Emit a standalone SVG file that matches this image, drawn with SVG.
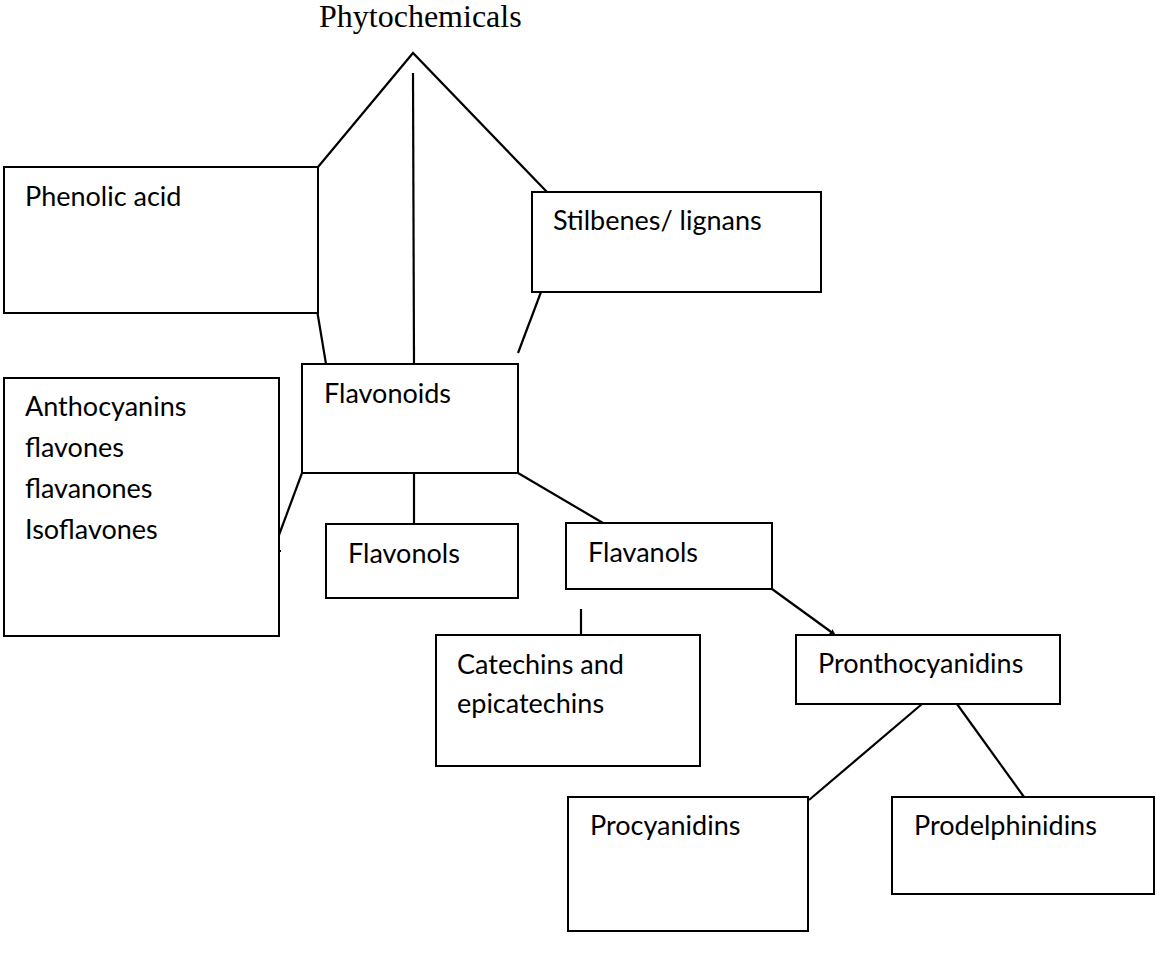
<svg xmlns="http://www.w3.org/2000/svg" width="1156" height="962" viewBox="0 0 1156 962">
<style>
.box{fill:#fff;stroke:#000;stroke-width:2}
.lbl{font-family:Lato,"Open Sans","Liberation Sans",sans-serif;font-size:27px;fill:#000}
.title{font-family:"Liberation Serif","Times New Roman",serif;font-size:32px;fill:#000}
.con line,.con path{stroke:#000;stroke-width:2.2;fill:none}
</style>
<defs>
<marker id="ah" markerWidth="8" markerHeight="8" refX="4" refY="4" orient="auto" markerUnits="userSpaceOnUse">
<path d="M0,1 L6,4 L0,7 Z" fill="#000"/>
</marker>
</defs>
<rect width="1156" height="962" fill="#fff"/>
<g id="connectors" class="con">
<path d="M318,167 L413,53 L547,192"/>
<line x1="413" y1="73" x2="414" y2="364"/>
<line x1="317.5" y1="313" x2="326" y2="364"/>
<line x1="541" y1="292" x2="518" y2="353"/>
<line x1="302" y1="473" x2="279" y2="535"/>
<line x1="279" y1="551" x2="281" y2="551"/>
<line x1="414" y1="473" x2="414" y2="524"/>
<line x1="518" y1="473" x2="603" y2="523"/>
<line x1="772" y1="589" x2="834" y2="634" marker-end="url(#ah)"/>
<line x1="581" y1="609" x2="581" y2="635"/>
<line x1="922" y1="704" x2="809" y2="800"/>
<line x1="957" y1="704" x2="1024" y2="797"/>
</g>
<g id="phytochemicals"><text class="title" x="319" y="27">Phytochemicals</text></g>
<g id="phenolic"><rect class="box" x="4" y="167" width="314" height="146"/><text class="lbl" x="25" y="206">Phenolic acid</text></g>
<g id="stilbenes"><rect class="box" x="532" y="192" width="289" height="100"/><text class="lbl" x="553" y="230">Stilbenes/ lignans</text></g>
<g id="flavonoids"><rect class="box" x="302" y="364" width="216" height="109"/><text class="lbl" x="324" y="403">Flavonoids</text></g>
<g id="anthocyanins"><rect class="box" x="4" y="378" width="275" height="258"/><text class="lbl" x="25" y="416">Anthocyanins</text><text class="lbl" x="25" y="457">flavones</text><text class="lbl" x="25" y="498">flavanones</text><text class="lbl" x="25" y="539">Isoflavones</text></g>
<g id="flavonols"><rect class="box" x="326" y="524" width="192" height="74"/><text class="lbl" x="348" y="563">Flavonols</text></g>
<g id="flavanols"><rect class="box" x="566" y="523" width="206" height="66"/><text class="lbl" x="588" y="562">Flavanols</text></g>
<g id="catechins"><rect class="box" x="436" y="635" width="264" height="131"/><text class="lbl" x="457" y="674">Catechins and</text><text class="lbl" x="457" y="713">epicatechins</text></g>
<g id="pronthocyanidins"><rect class="box" x="796" y="635" width="264" height="69"/><text class="lbl" x="818" y="673">Pronthocyanidins</text></g>
<g id="procyanidins"><rect class="box" x="568" y="797" width="240" height="134"/><text class="lbl" x="590" y="835">Procyanidins</text></g>
<g id="prodelphinidins"><rect class="box" x="892" y="797" width="262" height="97"/><text class="lbl" x="914" y="835">Prodelphinidins</text></g>
</svg>
